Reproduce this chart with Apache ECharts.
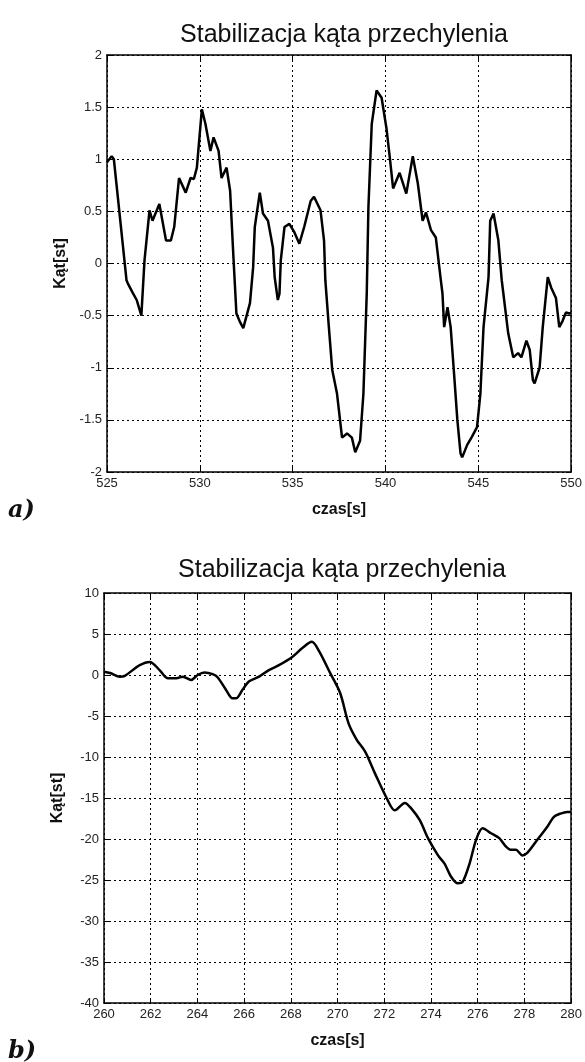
<!DOCTYPE html>
<html>
<head>
<meta charset="utf-8">
<script src="https://cdn.jsdelivr.net/npm/echarts@6/dist/echarts.min.js"></script>
<style>
  html,body{margin:0;padding:0;background:#fff;}
  #chart{width:585px;height:1062px;}
</style>
</head>
<body>
<div id="chart"></div>
<script>
// wykres a) czas [s] i kat [st]
var timeA = [525.0, 525.25, 525.37, 526.05, 526.12, 526.38, 526.6, 526.85, 527.02, 527.29,
  527.45, 527.82, 528.18, 528.44, 528.62, 528.88, 529.24, 529.5, 529.68, 529.84,
  530.11, 530.3, 530.57, 530.74, 531.01, 531.17, 531.44, 531.63, 531.81, 531.97,
  532.16, 532.34, 532.7, 532.87, 532.96, 533.23, 533.4, 533.67, 533.94, 534.03,
  534.2, 534.29, 534.36, 534.56, 534.82, 535.09, 535.36, 535.62, 535.97, 536.15,
  536.5, 536.69, 536.76, 536.95, 537.13, 537.39, 537.66, 537.93, 538.19, 538.37,
  538.46, 538.63, 538.81, 538.99, 539.08, 539.26, 539.52, 539.79, 540.05, 540.23,
  540.41, 540.76, 541.12, 541.47, 541.74, 542.0, 542.18, 542.45, 542.71, 542.98,
  543.07, 543.16, 543.34, 543.51, 543.69, 543.87, 544.04, 544.13, 544.4, 544.66,
  544.93, 545.11, 545.28, 545.55, 545.64, 545.82, 546.08, 546.26, 546.35, 546.61,
  546.88, 547.14, 547.32, 547.59, 547.77, 547.94, 548.03, 548.3, 548.47, 548.74,
  548.92, 549.18, 549.36, 549.54, 549.72, 549.89, 550.0];
var angleA = [0.97, 1.03, 1.0, -0.16, -0.19, -0.28, -0.35, -0.5, 0.03, 0.51,
  0.41, 0.57, 0.22, 0.22, 0.35, 0.82, 0.68, 0.82, 0.81, 0.92,
  1.48, 1.34, 1.08, 1.21, 1.08, 0.82, 0.92, 0.70, 0.06, -0.48,
  -0.56, -0.62, -0.38, -0.04, 0.35, 0.68, 0.48, 0.41, 0.15, -0.13,
  -0.35, -0.29, 0.03, 0.35, 0.38, 0.30, 0.19, 0.35, 0.6, 0.64,
  0.51, 0.22, -0.16, -0.61, -1.02, -1.25, -1.67, -1.63, -1.67, -1.81,
  -1.82, -1.70, -1.25, -0.29, 0.54, 1.34, 1.66, 1.59, 1.30, 1.02,
  0.72, 0.87, 0.67, 1.03, 0.77, 0.41, 0.49, 0.32, 0.25, -0.16,
  -0.29, -0.61, -0.42, -0.61, -1.05, -1.50, -1.82, -1.86, -1.74, -1.66,
  -1.57, -1.25, -0.61, -0.13, 0.41, 0.48, 0.22, -0.16, -0.29, -0.67,
  -0.90, -0.86, -0.90, -0.74, -0.83, -1.12, -1.15, -1.0, -0.61, -0.13,
  -0.23, -0.33, -0.61, -0.55, -0.47, -0.48, -0.47];

// wykres b)
var timeB = [260.0, 260.26, 260.68, 260.89, 261.53, 261.96, 262.38, 262.74, 263.1, 263.38,
  263.73, 264.01, 264.3, 264.65, 264.87, 265.22, 265.5, 265.65, 265.93, 266.2,
  266.64, 267.06, 267.49, 268.06, 268.48, 268.9, 269.19, 269.69, 270.11, 270.47,
  270.82, 271.18, 271.6, 272.1, 272.45, 272.88, 273.16, 273.52, 273.87, 274.3,
  274.58, 274.86, 275.15, 275.36, 275.65, 275.93, 276.21, 276.57, 276.92, 277.2,
  277.41, 277.63, 277.91, 278.12, 278.55, 278.98, 279.26, 279.54, 279.83, 280.0];
var angleB = [0.4, 0.25, -0.2, -0.1, 1.2, 1.6, 0.6, -0.4, -0.4, -0.2,
  -0.6, 0.0, 0.3, 0.1, -0.3, -1.8, -2.85, -2.85, -1.8, -0.8,
  -0.2, 0.6, 1.2, 2.2, 3.25, 4.05, 3.0, 0.2, -2.2, -5.9,
  -7.9, -9.35, -12.0, -15.0, -16.5, -15.6, -16.3, -17.7, -19.9, -22.0,
  -23.0, -24.6, -25.4, -25.2, -23.0, -20.1, -18.7, -19.3, -19.9, -20.9,
  -21.3, -21.3, -22.0, -21.7, -20.1, -18.5, -17.3, -16.9, -16.7, -16.7];

var tytul = 'Stabilizacja kąta przechylenia';

function pary(xs, ys){
  var out = [];
  for (var i = 0; i < xs.length; i++) out.push([xs[i], ys[i]]);
  return out;
}

var osLabel = {color:'#222', fontFamily:'Liberation Sans', fontSize:13};
var kropki = {lineStyle:{type:[2,3], color:'#000', width:1}};
var nazwa = {fontFamily:'Liberation Sans', fontWeight:'bold', fontSize:16, color:'#111'};

function osX(idx, min, max, step, pos, withLabel){
  return {
    type:'value', gridIndex:idx, min:min, max:max, interval:step, position:pos,
    name: withLabel ? 'czas[s]' : '', nameLocation:'middle', nameGap:30,
    nameTextStyle:nazwa,
    axisLine:{show:true, onZero:false, lineStyle:{color:'#000', width:1.5}},
    axisTick:{show:true, inside:true, length:5, lineStyle:{color:'#000'}},
    axisLabel:{show:withLabel, margin:5, fontFamily:osLabel.fontFamily, fontSize:osLabel.fontSize, color:osLabel.color},
    splitLine:{show:withLabel, lineStyle:kropki.lineStyle}
  };
}
function osY(idx, min, max, step, pos, withLabel){
  return {
    type:'value', gridIndex:idx, min:min, max:max, interval:step, position:pos,
    name: withLabel ? 'Kąt[st]' : '', nameLocation:'middle', nameGap:38,
    nameTextStyle:nazwa,
    axisLine:{show:true, onZero:false, lineStyle:{color:'#000', width:1.5}},
    axisTick:{show:true, inside:true, length:5, lineStyle:{color:'#000'}},
    axisLabel:{show:withLabel, margin:5, fontFamily:osLabel.fontFamily, fontSize:osLabel.fontSize, color:osLabel.color},
    splitLine:{show:withLabel, lineStyle:kropki.lineStyle}
  };
}

var myChart = echarts.init(document.getElementById('chart'), null, {renderer:'canvas'});
var option = {
  animation:false,
  backgroundColor:'#fff',
  title:[
    {text:tytul, left:339, top:18, textAlign:'center',
      textStyle:{fontFamily:'Liberation Sans', fontWeight:'normal', fontSize:25, color:'#111'}},
    {text:tytul, left:337, top:553, textAlign:'center',
      textStyle:{fontFamily:'Liberation Sans', fontWeight:'normal', fontSize:25, color:'#111'}}
  ],
  grid:[
    {left:107, top:55, width:470, height:417},
    {left:104, top:593, width:470, height:410}
  ],
  xAxis:[
    osX(0, 525, 550, 5, 'bottom', true),
    osX(0, 525, 550, 5, 'top', false),
    osX(1, 260, 280, 2, 'bottom', true),
    osX(1, 260, 280, 2, 'top', false)
  ],
  yAxis:[
    osY(0, -2, 2, 0.5, 'left', true),
    osY(0, -2, 2, 0.5, 'right', false),
    osY(1, -40, 10, 5, 'left', true),
    osY(1, -40, 10, 5, 'right', false)
  ],
  series:[
    {type:'line', xAxisIndex:0, yAxisIndex:0, data:pary(timeA, angleA), showSymbol:false,
      lineStyle:{color:'#000', width:2.5}},
    {type:'line', xAxisIndex:2, yAxisIndex:2, data:pary(timeB, angleB), showSymbol:false, smooth:0.3,
      lineStyle:{color:'#000', width:2.5}}
  ],
  graphic:[
    {type:'text', left:8, top:499, style:{text:'a)', fontFamily:'DejaVu Serif', fontStyle:'italic', fontWeight:'bold', fontSize:24, fill:'#111'}},
    {type:'text', left:8, top:1040, style:{text:'b)', fontFamily:'DejaVu Serif', fontStyle:'italic', fontWeight:'bold', fontSize:24, fill:'#111'}}
  ]
};
myChart.setOption(option);
</script>
</body>
</html>
